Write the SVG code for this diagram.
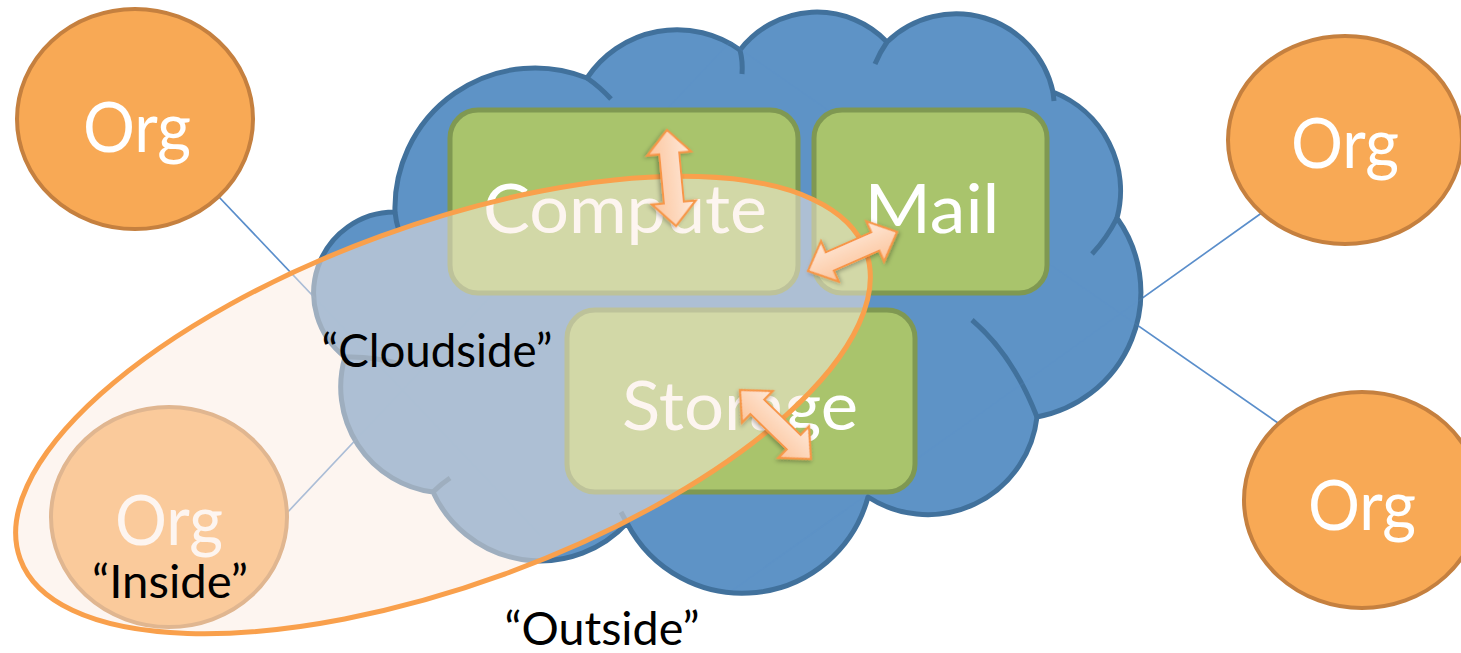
<svg xmlns="http://www.w3.org/2000/svg" xmlns:xlink="http://www.w3.org/1999/xlink" width="1461" height="653" viewBox="0 0 1461 653">
  <style>
    .org { fill: #f8a955; stroke: #c5803f; stroke-width: 4; }
    .org-label { font-family: Lato, "Liberation Sans", sans-serif; font-size: 70px; fill: #ffffff; text-anchor: middle; }
    .box { fill: #a9c46c; stroke: #7f9852; stroke-width: 5; }
    .box-label { font-family: Lato, "Liberation Sans", sans-serif; font-size: 68px; fill: #ffffff; text-anchor: middle; }
    .cloud { fill: #5e93c6; stroke: #41719c; stroke-width: 5; stroke-linejoin: round; }
    .cloud-tail { fill: none; stroke: #41719c; stroke-width: 5; stroke-linecap: butt; }
    .link { stroke: #5a8ecb; stroke-width: 1.6; fill: none; }
    .zone { fill: #fbebe1; fill-opacity: 0.5; stroke: #f9a04c; stroke-width: 5; }
    .arrow { fill: url(#arrowFill); stroke: #f79646; stroke-width: 2.2; stroke-linejoin: miter; filter: url(#arrowShadow); }
    .note { font-family: Lato, "Liberation Sans", sans-serif; font-size: 46px; fill: #000000; text-anchor: middle; }
  </style>
  <defs>
    <linearGradient id="arrowFill" x1="0" y1="0" x2="0" y2="1">
      <stop offset="0" stop-color="#fee9da"/>
      <stop offset="1" stop-color="#fcc49b"/>
    </linearGradient>
    <filter id="arrowShadow" x="-30%" y="-30%" width="160%" height="160%">
      <feDropShadow dx="1" dy="2" stdDeviation="2" flood-color="#000000" flood-opacity="0.3"/>
    </filter>
    <!-- double-headed block arrow, 98 long, pointing along +x -->
    <polygon id="dblArrow" points="0,0 24,-22 24,-10 74,-10 74,-22 98,0 74,22 74,10 24,10 24,22"/>
  </defs>

  <rect width="1461" height="653" fill="#ffffff"/>

  <!-- links from each organisation into the cloud -->
  <g id="connectors">
    <line class="link" x1="218" y1="196" x2="540" y2="535"/>
    <line class="link" x1="285" y1="515" x2="730" y2="42"/>
    <line class="link" x1="1263" y1="212" x2="733" y2="590"/>
    <line class="link" x1="1278" y1="423" x2="730" y2="42"/>
  </g>

  <!-- cloud -->
  <g id="cloud">
    <path class="cloud" d="M345,357 A81 81 0 0 1 395,212 A140 140 0 0 1 587,78 A108 108 0 0 1 740,50 A97 97 0 0 1 887,42 A99 99 0 0 1 1053,92 A106 106 0 0 1 1117,218 A127 127 0 0 1 1037,417 A110 110 0 0 1 868,497 A130 130 0 0 1 627,523 A118 118 0 0 1 433,492 A106 106 0 0 1 345,357 Z"/>
    <path class="cloud-tail" d="M395,212 Q396,222 399,231"/>
    <path class="cloud-tail" d="M587,78 Q600,87 611,99"/>
    <path class="cloud-tail" d="M740,50 Q743,62 742,74"/>
    <path class="cloud-tail" d="M887,42 Q880,52 875,64"/>
    <path class="cloud-tail" d="M1053,92 L1054,101"/>
    <path class="cloud-tail" d="M1117,218 Q1107,238 1092,254"/>
    <path class="cloud-tail" d="M1037,417 Q1013,355 972,320"/>
    <path class="cloud-tail" d="M627,523 L621,512"/>
    <path class="cloud-tail" d="M433,492 Q441,484 450,478"/>
    <path class="cloud-tail" d="M345,357 Q372,356 400,364"/>
  </g>
  <!-- faint continuation of the links across the cloud -->
  <use xlink:href="#connectors" opacity="0.15"/>

  <!-- services -->
  <g id="compute">
    <rect class="box" x="450" y="110" width="348" height="183" rx="28"/>
    <text class="box-label" x="625" y="233" textLength="284" lengthAdjust="spacingAndGlyphs">Compute</text>
  </g>
  <g id="mail">
    <rect class="box" x="814" y="110" width="233" height="183" rx="28"/>
    <text class="box-label" x="932" y="233" textLength="135" lengthAdjust="spacingAndGlyphs">Mail</text>
  </g>
  <g id="storage">
    <rect class="box" x="567" y="310" width="348" height="182" rx="28"/>
    <text class="box-label" x="740" y="430" textLength="236" lengthAdjust="spacingAndGlyphs">Storage</text>
  </g>

  <!-- organisations -->
  <g id="org-top-left">
    <ellipse class="org" cx="135" cy="119" rx="118" ry="110"/>
    <text class="org-label" x="137" y="152" textLength="108" lengthAdjust="spacingAndGlyphs">Org</text>
  </g>
  <g id="org-top-right">
    <ellipse class="org" cx="1345" cy="140" rx="117" ry="104"/>
    <text class="org-label" x="1345" y="168" textLength="108" lengthAdjust="spacingAndGlyphs">Org</text>
  </g>
  <g id="org-bottom-right">
    <ellipse class="org" cx="1362" cy="500" rx="118" ry="108"/>
    <text class="org-label" x="1362" y="530" textLength="108" lengthAdjust="spacingAndGlyphs">Org</text>
  </g>
  <g id="org-inside">
    <ellipse class="org" cx="169" cy="517" rx="118" ry="110"/>
    <text class="org-label" x="169" y="545" textLength="108" lengthAdjust="spacingAndGlyphs">Org</text>
  </g>

  <!-- trust boundary -->
  <g id="inside-zone">
    <ellipse class="zone" cx="443" cy="405" rx="450" ry="180" transform="rotate(-20 443 405)"/>
  </g>

  <!-- traffic between services -->
  <g id="flows">
    <use xlink:href="#dblArrow" class="arrow" transform="translate(667 130) rotate(84.6) scale(0.984 1)"/>
    <use xlink:href="#dblArrow" class="arrow" transform="translate(808 271) rotate(-23.7) scale(0.992 1)"/>
    <use xlink:href="#dblArrow" class="arrow" transform="translate(740 390) rotate(44.2) scale(1.01 1)"/>
  </g>

  <!-- region labels -->
  <g id="labels">
    <text class="note" x="437" y="367" textLength="231" lengthAdjust="spacingAndGlyphs">“Cloudside”</text>
    <text class="note" x="170" y="598" textLength="156" lengthAdjust="spacingAndGlyphs">“Inside”</text>
    <text class="note" x="602" y="645" textLength="195" lengthAdjust="spacingAndGlyphs">“Outside”</text>
  </g>
</svg>
